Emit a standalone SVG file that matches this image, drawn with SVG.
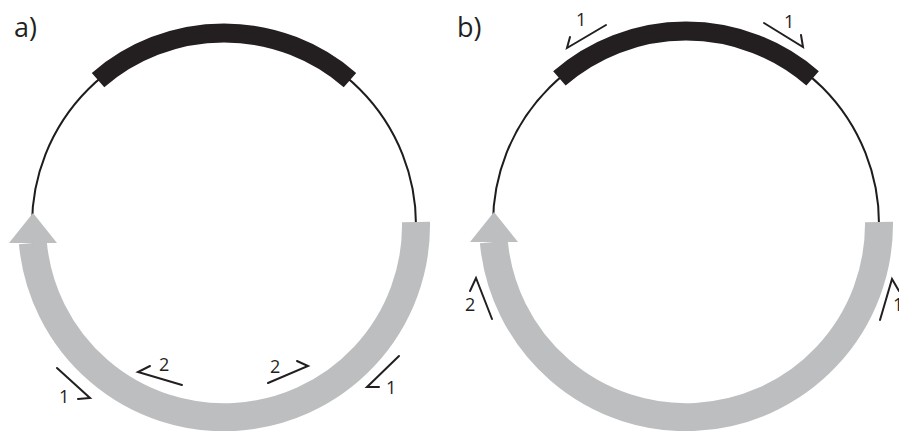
<svg xmlns="http://www.w3.org/2000/svg" width="899" height="431" viewBox="0 0 899 431">
<style>
.ring{fill:none;stroke:#1e1c1d;stroke-width:2}
.gene{fill:none;stroke:#231f20;stroke-width:19}
.band{fill:none;stroke:#bcbec0;stroke-width:28}
.head{fill:#bcbec0}
.primer{fill:none;stroke:#231f20;stroke-width:2;stroke-linecap:round;stroke-linejoin:miter}
.lbl{font-family:"Open Sans","Liberation Sans",sans-serif;font-size:18px;fill:#231f20}
.panel{font-family:"Open Sans","Liberation Sans",sans-serif;font-size:27px;fill:#231f20}
</style>
<rect width="899" height="431" fill="#ffffff"/>
<g id="panel-a">
  <text class="panel" x="14" y="37">a)</text>
  <g id="a-plasmid">
    <circle class="ring" cx="224" cy="225" r="192"/>
  </g>
  <g id="a-gene">
    <path class="gene" d="M 98.03 80.1 A 192 192 0 0 1 349.97 80.1"/>
  </g>
  <g id="a-marker">
    <path class="band" d="M 416 222 A 192 192 0 0 1 32.85 243"/>
    <polygon class="head" points="9,243 57,243 33,213"/>
  </g>
</g>
<g id="panel-b">
  <text class="panel" x="457" y="37">b)</text>
  <g id="b-plasmid">
    <circle class="ring" cx="686" cy="224" r="193"/>
  </g>
  <g id="b-gene">
    <path class="gene" d="M 559.4 78.34 A 193 193 0 0 1 812.6 78.34"/>
  </g>
  <g id="b-marker">
    <path class="band" d="M 879 222 A 193 193 0 0 1 493.84 242"/>
    <polygon class="head" points="470,242 518,242 494,212"/>
  </g>
</g>
<g id="connectors">
  <polyline class="primer" points="57,368 90,398 78,399"/>
  <polyline class="primer" points="182,385 138,372 150,366"/>
  <polyline class="primer" points="268,383 308,366 297,361"/>
  <polyline class="primer" points="399,356 367,387 379,387"/>
  <polyline class="primer" points="606,25 567,48 570,37"/>
  <polyline class="primer" points="764,23 803,47 801,35"/>
  <polyline class="primer" points="492,319 476,278 470,291"/>
  <polyline class="primer" points="880,320 892,279 899,291"/>
</g>
<g id="labels">
  <text class="lbl" x="59" y="403">1</text>
  <text class="lbl" x="159" y="371">2</text>
  <text class="lbl" x="270" y="373">2</text>
  <text class="lbl" x="386" y="394">1</text>
  <text class="lbl" x="576" y="26">1</text>
  <text class="lbl" x="784" y="28">1</text>
  <text class="lbl" x="465" y="311">2</text>
  <text class="lbl" x="893" y="311">1</text>
</g>
</svg>
